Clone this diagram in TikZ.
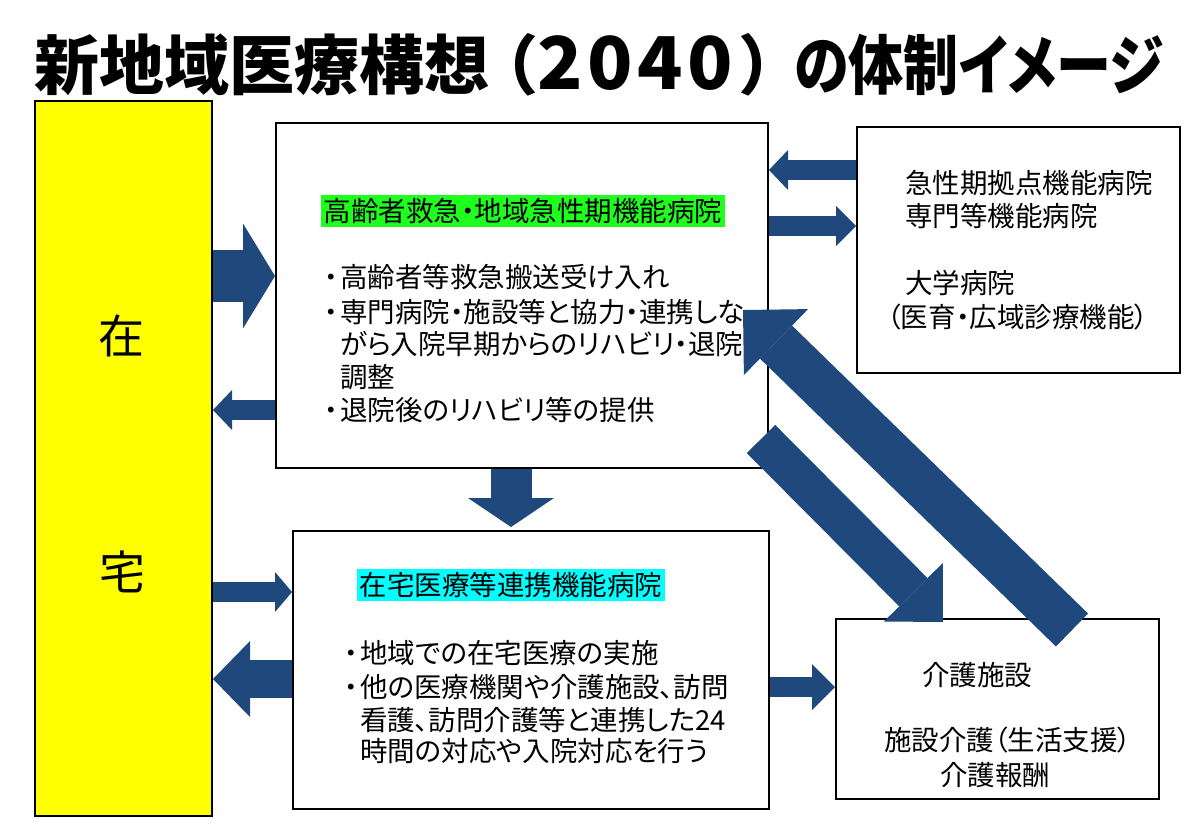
\documentclass[tikz,border=0pt]{standalone}
\usepackage{graphicx}
\usepackage{fontspec}
\setmainfont{Noto Sans CJK JP}[RawFeature=+palt]
\newfontfamily\titlefont{Noto Sans CJK JP}[RawFeature=+palt]
\usetikzlibrary{arrows.meta}
\definecolor{arrowblue}{RGB}{31,73,125}
\definecolor{hlgreen}{RGB}{30,255,30}
\definecolor{hlcyan}{RGB}{0,255,255}
\definecolor{zaiyellow}{RGB}{255,255,0}
\tikzset{
  box/.style={draw=black, line width=2pt, fill=white, inner sep=0pt, anchor=north west},
  body/.style={font=\fontsize{27.5}{33}\selectfont, anchor=west, inner sep=0pt},
  hl/.style={font=\fontsize{27.5}{33}\selectfont, inner xsep=3pt, inner ysep=3pt},
  bigchar/.style={font=\fontsize{46}{46}\selectfont, inner sep=0pt},
  barrow/.style n args={3}{draw=arrowblue, line width=#1, -{Triangle[width=#2, length=#3, line width=0pt]}},
}
\newcommand{\bul}{\makebox[18pt][c]{・}}
\newcommand{\dg}[1]{\makebox[50pt][c]{\scalebox{1.15}[1.12]{#1}}}
\newsavebox{\kanabox}
\begin{document}
\sbox{\kanabox}{\titlefont\bfseries\fontsize{65}{65}\selectfont の体制イメージ}
\begin{tikzpicture}[x=1pt,y=-1pt]
\useasboundingbox (0,0) rectangle (1200,831);
\fill[white] (0,0) rectangle (1200,831);

% title
\node[anchor=west, inner sep=0pt, font=\titlefont\bfseries\fontsize{65}{65}\selectfont] (title) at (34,65)
  {新地域医療構想\hspace{14pt}（\hspace{0pt}\dg{2}\dg{0}\dg{4}\dg{0}\hspace{6pt}）\hspace{20pt}\resizebox{369pt}{\ht\kanabox}{\usebox{\kanabox}}};

% boxes
\node[box, fill=zaiyellow, minimum width=177pt, minimum height=715pt] (yel) at (34,100) {};
\node[bigchar] (zai) at (121,336) {在};
\node[bigchar] (taku) at (122,572) {宅};

\node[box, minimum width=492pt, minimum height=345pt] (b1) at (275,122) {};
\node[box, minimum width=323pt, minimum height=246pt] (b2) at (856,126) {};
\node[box, minimum width=476pt, minimum height=278pt] (b3) at (292,530) {};
\node[box, minimum width=323pt, minimum height=180pt] (b4) at (835,618) {};

% box1 text
\node[hl, fill=hlgreen] (h1) at (523,211) {高齢者救急・地域急性期機能病院};
\node[body] (t11) at (322,277) {\bul 高齢者等救急搬送受け入れ};
\node[body] (t12) at (322,312) {\bul 専門病院・施設等と協力・連携しな};
\node[body] (t13) at (340,344) {がら入院早期からのリハビリ・退院};
\node[body] (t14) at (340,377) {調整};
\node[body] (t15) at (322,410) {\bul 退院後のリハビリ等の提供};

% box2 text
\node[body] (t21) at (905,183) {急性期拠点機能病院};
\node[body] (t22) at (905,216) {専門等機能病院};
\node[body] (t23) at (905,283) {大学病院};
\node[body] (t24) at (887,317) {（医育・広域診療機能）};

% box3 text
\node[hl, fill=hlcyan] (h3) at (511,585) {在宅医療等連携機能病院};
\node[body] (t31) at (342,653) {\bul 地域での在宅医療の実施};
\node[body] (t32) at (342,687) {\bul 他の医療機関や介護施設、訪問};
\node[body] (t33) at (360,720) {看護、訪問介護等と連携した24};
\node[body] (t34) at (360,751) {時間の対応や入院対応を行う};

% box4 text
\node[body] (t41) at (922,675) {介護施設};
\node[body] (t42) at (884,740) {施設介護（生活支援）};
\node[body] (t43) at (940,775) {介護報酬};

% arrows
\draw[barrow={52pt}{105pt}{32pt}] (yel.east |- 0,276) -- (b1.west |- 0,276);
\draw[barrow={20pt}{40pt}{19pt}] (b1.west |- 0,410) -- (yel.east |- 0,410);
\draw[barrow={20pt}{40pt}{19pt}] (b2.west |- 0,170) -- (b1.east |- 0,170);
\draw[barrow={20pt}{40pt}{20pt}] (b1.east |- 0,226) -- (b2.west |- 0,226);
\draw[barrow={41pt}{86pt}{29pt}] (b1.south -| 511,0) -- (511,527);
\draw[barrow={20pt}{40pt}{17pt}] (yel.east |- 0,592) -- (b3.west |- 0,592);
\draw[barrow={38pt}{76pt}{37pt}] (b3.west |- 0,679) -- (yel.east |- 0,679);
\draw[barrow={20pt}{46pt}{23pt}] (b3.east |- 0,687) -- (b4.west |- 0,687);
\coordinate (atail) at (1072,630);
\coordinate (ahead) at (743,310);
\coordinate (btail) at (761,439);
\coordinate (bhead) at (943,622);
\draw[barrow={46pt}{92pt}{46pt}] (atail) -- (ahead);
\draw[barrow={40pt}{83pt}{42pt}] (btail) -- (bhead);
\end{tikzpicture}
\end{document}
